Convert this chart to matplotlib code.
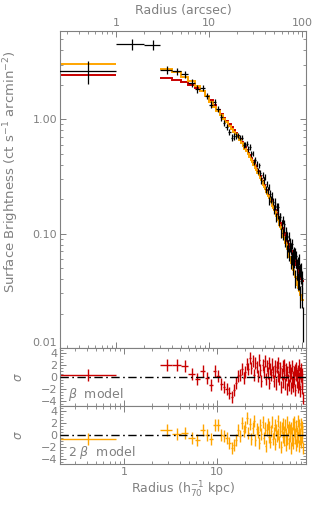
import numpy as np
import matplotlib.pyplot as plt
from matplotlib.ticker import LogLocator, FuncFormatter, MultipleLocator, NullFormatter, FixedLocator

# 1 arcsec bins; kpc per arcsec for the lower axis
kpc_per_arcsec = 0.82

# inner bins (0-1, 1-2, 2-3 arcsec); bins 1 and 2 were left out of the fits
r_in = [0.5, 1.5, 2.5]
sb_in = [2.64, 4.50, 4.45]
sb_in_err = [0.60, 0.50, 0.45]
m1b_in = 2.41
m2b_in = 3.03
res1b_in = 0.4
res2b_in = -0.7

# outer bins 3-102 arcsec
edges = np.arange(3, 103)
r_mid = edges[:-1] + 0.5

m_1b = [2.29, 2.22, 2.12, 2.00, 1.88, 1.75, 1.61, 1.466, 1.329, 1.215,
        1.118, 1.03, 0.965, 0.905, 0.851, 0.803, 0.760, 0.718, 0.676, 0.638,
        0.603, 0.571, 0.540, 0.509, 0.482, 0.456, 0.434, 0.411, 0.388, 0.369,
        0.350, 0.333, 0.316, 0.302, 0.288, 0.275, 0.264, 0.251, 0.240, 0.230,
        0.219, 0.210, 0.203, 0.195, 0.186, 0.180, 0.173, 0.166, 0.160, 0.155,
        0.150, 0.145, 0.1395, 0.1342, 0.129, 0.1242, 0.1195, 0.1152, 0.1115, 0.1075,
        0.1037, 0.1006, 0.0974, 0.0943, 0.0913, 0.0885, 0.0859, 0.0832, 0.0806, 0.0781,
        0.0761, 0.0740, 0.0718, 0.0699, 0.0682, 0.0664, 0.0649, 0.0630, 0.0612, 0.0596,
        0.0579, 0.0563, 0.0548, 0.0536, 0.0522, 0.0510, 0.0497, 0.0486, 0.0475, 0.0463,
        0.0453, 0.0442, 0.0432, 0.0420, 0.0410, 0.0400, 0.0391, 0.0383, 0.0374]

m_2b = [2.75, 2.56, 2.36, 2.15, 1.94, 1.76, 1.58, 1.423, 1.29, 1.18,
        1.085, 1.00, 0.937, 0.879, 0.826, 0.780, 0.738, 0.697, 0.656, 0.619,
        0.585, 0.554, 0.524, 0.494, 0.468, 0.443, 0.421, 0.399, 0.377, 0.358,
        0.340, 0.323, 0.307, 0.293, 0.280, 0.267, 0.256, 0.244, 0.233, 0.223,
        0.213, 0.204, 0.196, 0.188, 0.180, 0.173, 0.166, 0.160, 0.153, 0.1475,
        0.142, 0.1366, 0.131, 0.1254, 0.120, 0.115, 0.1103, 0.1057, 0.1014, 0.0973,
        0.0934, 0.0898, 0.0862, 0.0827, 0.0794, 0.0763, 0.0734, 0.0705, 0.0677, 0.0651,
        0.0626, 0.0602, 0.0579, 0.0557, 0.0537, 0.0517, 0.0499, 0.0481, 0.0464, 0.0448,
        0.0432, 0.0417, 0.0403, 0.0391, 0.0378, 0.0367, 0.0355, 0.0345, 0.0336, 0.0326,
        0.0318, 0.0309, 0.0301, 0.0292, 0.0284, 0.0276, 0.0269, 0.0262, 0.0256]

sb_err = [0.21, 0.20, 0.18, 0.16, 0.15, 0.13, 0.11, 0.095, 0.086, 0.073,
          0.067, 0.062, 0.053, 0.050, 0.047, 0.044, 0.042, 0.039, 0.037, 0.035,
          0.033, 0.031, 0.032, 0.031, 0.029, 0.027, 0.026, 0.025, 0.023, 0.024,
          0.023, 0.022, 0.021, 0.020, 0.019, 0.019, 0.018, 0.018, 0.017, 0.016,
          0.016, 0.016, 0.015, 0.015, 0.015, 0.014, 0.014, 0.013, 0.014, 0.013,
          0.013, 0.012, 0.013, 0.012, 0.012, 0.011, 0.011, 0.011, 0.011, 0.011,
          0.010, 0.010, 0.0097, 0.0099, 0.0096, 0.0093, 0.0094, 0.0092, 0.0089, 0.0086,
          0.0088, 0.0085, 0.0083, 0.0084, 0.0082, 0.0080, 0.0078, 0.0079, 0.0077, 0.0075,
          0.0075, 0.0073, 0.0071, 0.0070, 0.0070, 0.0069, 0.0067, 0.0068, 0.0067, 0.0065,
          0.0063, 0.0064, 0.0063, 0.0061, 0.0062, 0.0060, 0.0059, 0.0057, 0.0058]

# residuals (data - model) / error
res_1b = [2.0, 2.0, 1.9, 0.5, -0.3, 1.0, -0.1, -1.3, 1.0, 0.1,
          -1.2, -1.6, -2.0, -2.6, -3.4, -2.2, -1.0, 0.1, 0.4, 1.4,
          -0.2, 0.9, 2.2, 1.3, 3.1, 1.5, 2.6, 0.4, 2.4, 1.6,
          0.2, 2.8, 1.1, -0.6, 2.0, 0.9, 2.6, -0.4, 1.8, 0.6,
          2.3, -1.0, 1.4, 0.3, 2.1, 0.8, -0.7, 1.9, 1.0, -1.2,
          1.6, 0.2, 2.4, -0.4, 0.9, 1.5, -1.6, 0.5, 1.8, -0.8,
          0.7, 2.0, -1.2, 0.3, 1.3, -2.0, 0.8, -0.5, 1.6, -1.4,
          0.2, 1.1, -1.8, 0.6, -0.9, 1.9, 0.0, -1.5, 0.9, -0.3,
          1.2, -2.1, 0.4, 1.5, -0.8, 0.3, -1.6, 1.0, -0.2, 2.0,
          -1.1, 0.6, -2.3, 0.1, 1.3, -0.9, -1.8, 0.5, -3.5]

res_2b = [0.9, 0.2, 0.3, -0.5, -0.9, 0.8, 0.0, -0.7, 1.7, 1.6,
          0.0, -0.2, -0.5, -1.3, -2.2, -1.6, -0.8, 0.9, -0.2, 2.0,
          0.6, 1.4, 2.8, 0.3, 1.9, -0.6, 1.2, 2.4, -0.9, 1.0,
          0.5, -1.4, 1.7, 0.2, 2.2, -0.5, 1.1, -1.9, 0.8, 1.9,
          -0.3, 1.3, -1.1, 0.6, 2.1, -0.7, 0.4, 1.6, -1.5, 0.9,
          -0.2, 2.3, 0.1, -1.2, 1.4, 0.7, -2.0, 1.1, -0.4, 1.8,
          -0.9, 0.5, 1.7, -1.6, 0.2, 2.1, -0.6, 0.9, -1.3, 1.4,
          -0.1, 0.8, -2.1, 1.2, 0.3, -0.8, 1.9, -1.4, 0.6, 2.2,
          -0.5, 0.1, -1.7, 1.5, 0.4, -1.0, 2.3, -0.3, 0.8, -1.9,
          1.6, -0.7, 0.2, 1.9, -1.2, 0.6, -0.4, 1.3, -2.2]

# surface brightness of the outer bins, back from the beta model residuals
sb = np.array(m_1b) + np.array(res_1b) * np.array(sb_err)

RED = '#c80000'
ORANGE = '#ffa500'
GRAY = '#808080'
xlim_as = (0.25, 110)
xlim_kpc = (xlim_as[0] * kpc_per_arcsec, xlim_as[1] * kpc_per_arcsec)

plt.rcParams['font.family'] = 'DejaVu Sans'
plt.rcParams['font.size'] = 8

fig = plt.figure(figsize=(3.14, 5.08), dpi=100)
W, H = 314.0, 508.0
ax = fig.add_axes([60 / W, 160 / H, 246 / W, 317 / H])
ax1 = fig.add_axes([60 / W, 102 / H, 246 / W, 58 / H])
ax2 = fig.add_axes([60 / W, 44 / H, 246 / W, 58 / H])

# main panel
ax.stairs([m1b_in], [0, 1], color=RED, lw=1.4, baseline=None)
ax.stairs([m2b_in], [0, 1], color=ORANGE, lw=1.4, baseline=None)
ax.stairs(m_1b, edges, color=RED, lw=1.4, baseline=None)
ax.stairs(m_2b, edges, color=ORANGE, lw=1.4, baseline=None)
ax.errorbar(r_in, sb_in, xerr=0.5, yerr=sb_in_err, fmt='none', ecolor='k', elinewidth=0.9, zorder=4)
ax.errorbar(r_mid, sb, xerr=0.5, yerr=sb_err, fmt='none', ecolor='k', elinewidth=0.9, zorder=4)

ax.set_xscale('log')
ax.set_yscale('log')
ax.set_xlim(*xlim_as)
ax.set_ylim(0.01, 5.9)
ax.xaxis.set_major_locator(FixedLocator([1, 10, 100]))
ax.xaxis.set_major_formatter(FuncFormatter(lambda v, p: f"{v:g}"))
ax.xaxis.set_minor_locator(LogLocator(base=10, subs=np.arange(2, 10)))
ax.xaxis.set_minor_formatter(NullFormatter())
ax.yaxis.set_major_locator(FixedLocator([0.01, 0.1, 1.0]))
ax.yaxis.set_major_formatter(FuncFormatter(lambda v, p: f"{v:.2f}"))
ax.yaxis.set_minor_locator(LogLocator(base=10, subs=np.arange(2, 10)))
ax.yaxis.set_minor_formatter(NullFormatter())
ax.tick_params(labelbottom=False, labeltop=True)
ax.xaxis.set_label_position('top')
ax.set_xlabel('Radius (arcsec)', color=GRAY, fontsize=9, labelpad=3)
ax.set_ylabel(r'Surface Brightness (ct s$^{-1}$ arcmin$^{-2}$)', color=GRAY, fontsize=9.5)
ax.yaxis.set_label_coords(-0.16, 0.555)

# residual panels
for a, res_in, res, col, name in [(ax1, res1b_in, res_1b, RED, r'$\beta$  model'),
                                   (ax2, res2b_in, res_2b, ORANGE, r'2 $\beta$  model')]:
    a.errorbar([r_in[0] * kpc_per_arcsec], [res_in], xerr=0.5 * kpc_per_arcsec, yerr=1,
               fmt='none', ecolor=col, elinewidth=1.0)
    a.errorbar(r_mid * kpc_per_arcsec, res, xerr=0.5 * kpc_per_arcsec, yerr=1,
               fmt='none', ecolor=col, elinewidth=1.0)
    a.axhline(0, color='k', lw=1.0, ls=(0, (6, 2.5, 1.2, 2.5)), zorder=5)
    a.set_xscale('log')
    a.set_xlim(*xlim_kpc)
    a.set_ylim(-4.85, 4.85)
    a.xaxis.set_major_locator(FixedLocator([1, 10]))
    a.xaxis.set_major_formatter(FuncFormatter(lambda v, p: f"{v:g}"))
    a.xaxis.set_minor_locator(LogLocator(base=10, subs=np.arange(2, 10)))
    a.xaxis.set_minor_formatter(NullFormatter())
    a.yaxis.set_major_locator(MultipleLocator(2))
    a.yaxis.set_minor_locator(MultipleLocator(0.5))
    a.yaxis.set_major_formatter(FuncFormatter(lambda v, p: f"{v:.0f}".replace('-', '\u2212')))
    a.set_ylabel(r'$\sigma$', color=GRAY, fontsize=8.5)
    a.yaxis.set_label_coords(-0.142, 0.5)
    a.text(0.033, 0.06, name, transform=a.transAxes, color=GRAY, fontsize=9,
           ha='left', va='bottom')

ax1.tick_params(labelbottom=False)
ax2.set_xlabel(r'Radius (h$_{70}^{-1}$ kpc)', color=GRAY, fontsize=9, labelpad=2)

for a in (ax, ax1, ax2):
    a.tick_params(which='both', direction='in', top=True, right=True,
                  color=GRAY, labelcolor=GRAY, labelsize=8, pad=2)
    a.tick_params(which='major', length=4.5, width=0.7)
    a.tick_params(which='minor', length=2.2, width=0.6)
    for s in a.spines.values():
        s.set_color(GRAY)
        s.set_linewidth(0.8)

# keep the lowest label of the main panel clear of the residual panel
ax.yaxis.get_major_ticks()[0].label1.set_va('bottom')

fig.savefig('out.png', dpi=100)
